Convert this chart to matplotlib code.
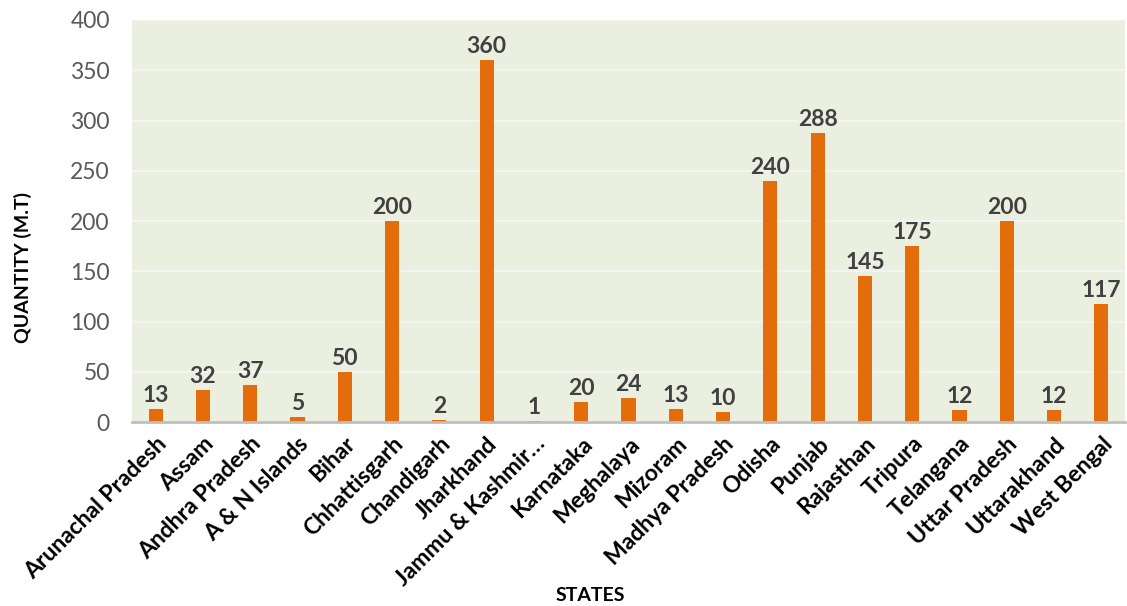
import matplotlib.pyplot as plt
import numpy as np

plt.rcParams['font.family'] = ['Lato', 'DejaVu Sans']

states = ['Arunachal Pradesh', 'Assam', 'Andhra Pradesh', 'A & N Islands', 'Bihar',
          'Chhattisgarh', 'Chandigarh', 'Jharkhand', 'Jammu & Kashmir…', 'Karnataka',
          'Meghalaya', 'Mizoram', 'Madhya Pradesh', 'Odisha', 'Punjab', 'Rajasthan',
          'Tripura', 'Telangana', 'Uttar Pradesh', 'Uttarakhand', 'West Bengal']
quantity = [13, 32, 37, 5, 50, 200, 2, 360, 1, 20, 24, 13, 10, 240, 288, 145,
            175, 12, 200, 12, 117]
y_ticks = [0, 50, 100, 150, 200, 250, 300, 350, 400]

fig = plt.figure(figsize=(11.27, 6.06), dpi=100)
ax = fig.add_axes([0.1171, 0.3036, 0.8811, 0.6634])
ax.set_facecolor('#EBEFDF')

x = np.arange(len(states))
bars = ax.bar(x, quantity, width=0.3, color='#E46C0A', zorder=3)

for xi, v in zip(x, quantity):
    ax.text(xi, v + 3, str(v), ha='center', va='bottom', fontsize=16.5,
            fontweight='bold', color='#404040', zorder=4)

ax.set_xlim(-0.5, len(states) - 0.5)
ax.set_ylim(0, 400)
ax.set_yticks(y_ticks)
ax.set_xticks(x)
ax.set_xticklabels(states, rotation=45, ha='right', rotation_mode='anchor',
                   fontsize=16.5, fontweight='bold', color='black')
ax.tick_params(axis='y', labelsize=16.5, labelcolor='#595959', length=0, pad=16)
ax.tick_params(axis='x', length=0, pad=8)
ax.grid(axis='y', color='#F5F5F5', linewidth=1.2, zorder=0)

for side in ['top', 'right', 'left']:
    ax.spines[side].set_visible(False)
ax.spines['bottom'].set_color('#BFBFBF')
ax.spines['bottom'].set_linewidth(2)
ax.spines['bottom'].set_zorder(5)

# axis titles placed in figure coordinates
fig.text(0.524, 0.018, 'STATES', ha='center', va='center',
         fontsize=14, fontweight='bold', color='black')
fig.text(0.02, 0.558, 'QUANTITY (M.T)', rotation=90, ha='center', va='center',
         fontsize=14, fontweight='bold', color='black')

fig.savefig('out.png', dpi=100)
